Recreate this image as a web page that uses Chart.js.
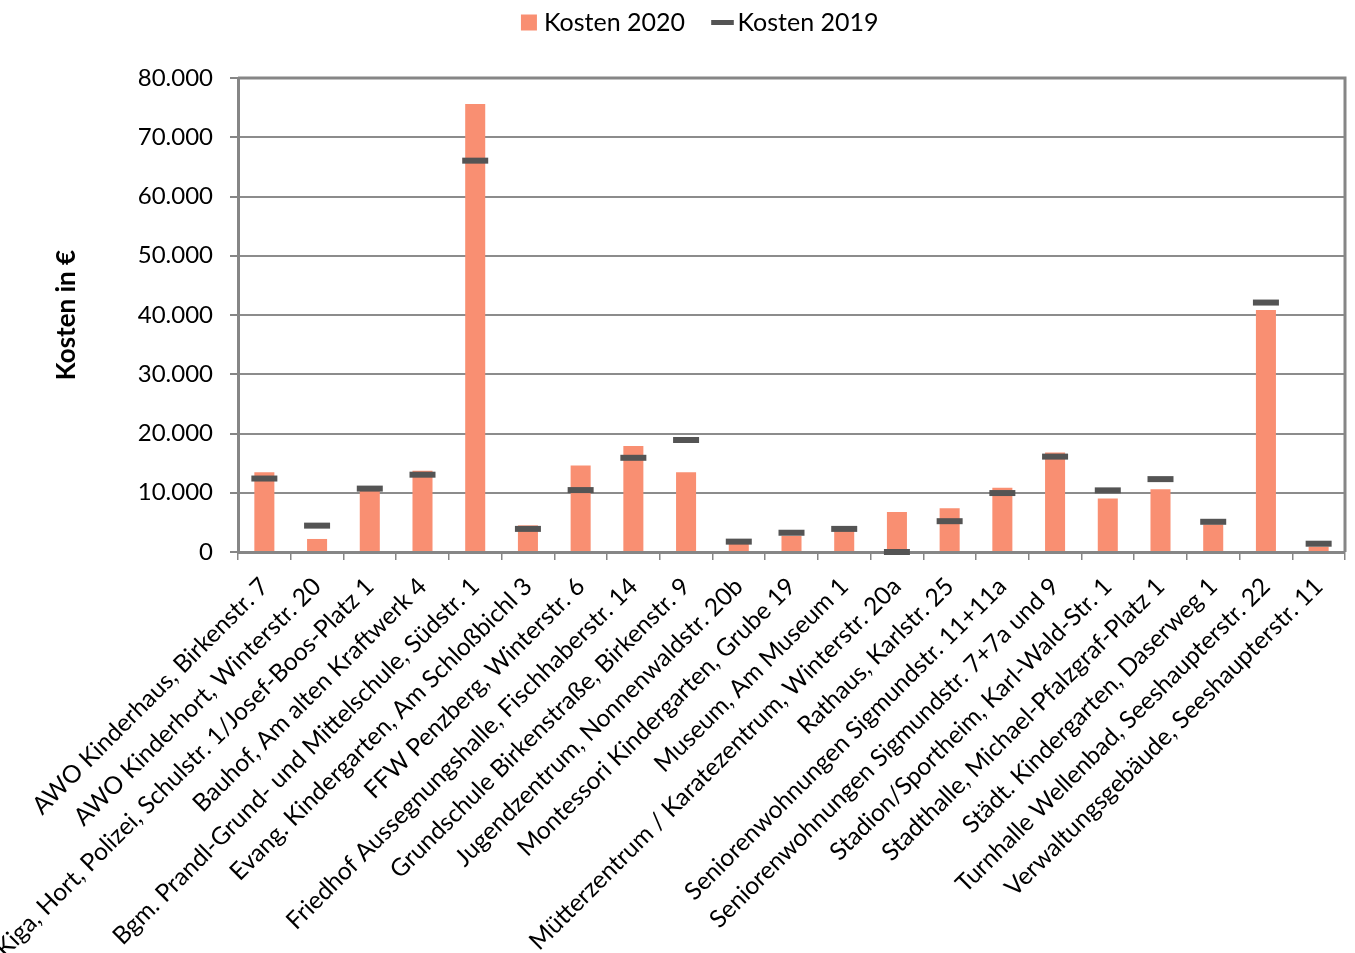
<!DOCTYPE html>
<html>
<head>
<meta charset="utf-8">
<script src="https://cdn.jsdelivr.net/npm/chart.js@4.4.0/dist/chart.umd.min.js"></script>
<style>
  html, body { margin: 0; padding: 0; background: #fff; overflow: hidden; }
  #wrap { width: 1355px; height: 953px; position: relative; }
</style>
</head>
<body>
<div id="wrap"><canvas id="chart"></canvas></div>
<script>
const categories = [
    'AWO Kinderhaus, Birkenstr. 7',
    'AWO Kinderhort, Winterstr. 20',
    'Kiga, Hort, Polizei, Schulstr. 1/Josef-Boos-Platz 1',
    'Bauhof, Am alten Kraftwerk 4',
    'Bgm. Prandl-Grund- und Mittelschule, Südstr. 1',
    'Evang. Kindergarten, Am Schloßbichl 3',
    'FFW Penzberg, Winterstr. 6',
    'Friedhof Aussegnungshalle, Fischhaberstr. 14',
    'Grundschule Birkenstraße, Birkenstr. 9',
    'Jugendzentrum, Nonnenwaldstr. 20b',
    'Montessori Kindergarten, Grube 19',
    'Museum, Am Museum 1',
    'Mütterzentrum / Karatezentrum, Winterstr. 20a',
    'Rathaus, Karlstr. 25',
    'Seniorenwohnungen Sigmundstr. 11+11a',
    'Seniorenwohnungen Sigmundstr. 7+7a und 9',
    'Stadion/Sportheim, Karl-Wald-Str. 1',
    'Stadthalle, Michael-Pfalzgraf-Platz 1',
    'Städt. Kindergarten, Daserweg 1',
    'Turnhalle Wellenbad, Seeshaupterstr. 22',
    'Verwaltungsgebäude, Seeshaupterstr. 11'
];

const kosten2020 = [13450, 2200, 10400, 13700, 75600, 4500, 14600, 17900, 13450, 1450,
    2700, 3700, 6750, 7400, 10850, 16800, 9050, 10600, 4650, 40850, 900];

const kosten2019 = [12400, 4450, 10700, 13050, 66050, 3900, 10450, 15900, 18900, 1750,
    3250, 3900, 0, 5200, 9950, 16100, 10400, 12300, 5100, 42100, 1400];

const yTicks = [0, 10000, 20000, 30000, 40000, 50000, 60000, 70000, 80000];

const FONT = 'Lato, "Open Sans", sans-serif';
const axisGrey = '#868686';

function formatDe(v) {
    return String(v).replace(/\B(?=(\d{3})+(?!\d))/g, '.');
}

// legend: fixed box height (room above the plot) and nudged a bit to the right
const legendTweak = {
    id: 'legendTweak',
    beforeInit(chart) {
        const lg = chart.legend;
        const origFit = lg.fit;
        lg.fit = function fit() {
            origFit.bind(lg)();
            this.height = 78;
        };
        const origDraw = lg.draw;
        lg.draw = function draw() {
            this.ctx.save();
            this.ctx.translate(30, 0);
            origDraw.apply(lg, arguments);
            this.ctx.restore();
        };
    }
};

// frame around the plot area (top + right side)
const plotFrame = {
    id: 'plotFrame',
    afterDatasetsDraw(chart) {
        const { ctx, chartArea: a } = chart;
        ctx.save();
        ctx.strokeStyle = axisGrey;
        ctx.lineWidth = 3;
        ctx.beginPath();
        ctx.moveTo(a.left, a.top);
        ctx.lineTo(a.right, a.top);
        ctx.lineTo(a.right, a.bottom);
        ctx.stroke();
        ctx.restore();
    }
};

const ctx = document.getElementById('chart');

new Chart(ctx, {
    data: {
        labels: categories,
        datasets: [
            {
                type: 'bar',
                label: 'Kosten 2020',
                data: kosten2020,
                backgroundColor: '#F98F72',
                borderWidth: 0,
                barPercentage: 0.38,
                categoryPercentage: 1,
                pointStyle: 'rect',
                order: 1
            },
            {
                type: 'line',
                label: 'Kosten 2019',
                data: kosten2019,
                showLine: false,
                pointStyle: 'line',
                pointRadius: 13,
                pointHoverRadius: 13,
                pointBorderWidth: 6,
                pointBorderColor: '#545454',
                pointBackgroundColor: '#545454',
                borderColor: '#545454',
                clip: false,
                order: 0
            }
        ]
    },
    options: {
        responsive: true,
        maintainAspectRatio: false,
        animation: false,
        layout: { autoPadding: false, padding: { top: 0, right: 10, left: 0, bottom: 0 } },
        plugins: {
            legend: {
                position: 'top',
                labels: {
                    usePointStyle: true,
                    boxWidth: 5,
                    boxHeight: 16,
                    padding: 10,
                    color: '#000',
                    font: { family: FONT, size: 25 },
                    sort: (a, b) => a.datasetIndex - b.datasetIndex,
                    generateLabels(chart) {
                        const items = Chart.defaults.plugins.legend.labels.generateLabels(chart);
                        items.forEach(it => {
                            if (it.datasetIndex === 0) it.text = it.text + '\u2003\u2005';
                            if (it.datasetIndex === 1) it.lineWidth = 5;
                        });
                        return items;
                    }
                }
            },
            tooltip: { enabled: false }
        },
        scales: {
            x: {
                grid: {
                    drawOnChartArea: false,
                    drawTicks: true,
                    tickLength: 8,
                    tickColor: axisGrey,
                    lineWidth: 1.5
                },
                border: { display: true, color: axisGrey, width: 3 },
                ticks: {
                    autoSkip: false,
                    minRotation: 45,
                    maxRotation: 45,
                    padding: 12,
                    color: '#000',
                    font: { family: FONT, size: 24.5 }
                },
                afterFit(scale) {
                    scale.height = 401;
                    scale.paddingLeft = 0;
                    scale.paddingRight = 0;
                }
            },
            y: {
                min: 0,
                max: 80000,
                afterBuildTicks(scale) {
                    scale.ticks = yTicks.map(v => ({ value: v }));
                },
                grid: {
                    color: '#8c8c8c',
                    lineWidth: 2,
                    drawTicks: true,
                    tickLength: 8,
                    tickColor: axisGrey
                },
                border: { display: true, color: axisGrey, width: 3 },
                ticks: {
                    padding: 17,
                    color: '#000',
                    font: { family: FONT, size: 24 },
                    callback: v => formatDe(v)
                },
                title: {
                    display: true,
                    text: 'Kosten in €',
                    color: '#000',
                    font: { family: FONT, size: 26, weight: 'bold' },
                    padding: { top: 51, bottom: 0 }
                },
                afterFit(scale) {
                    scale.width = 238;
                }
            }
        }
    },
    plugins: [legendTweak, plotFrame]
});
</script>
</body>
</html>
